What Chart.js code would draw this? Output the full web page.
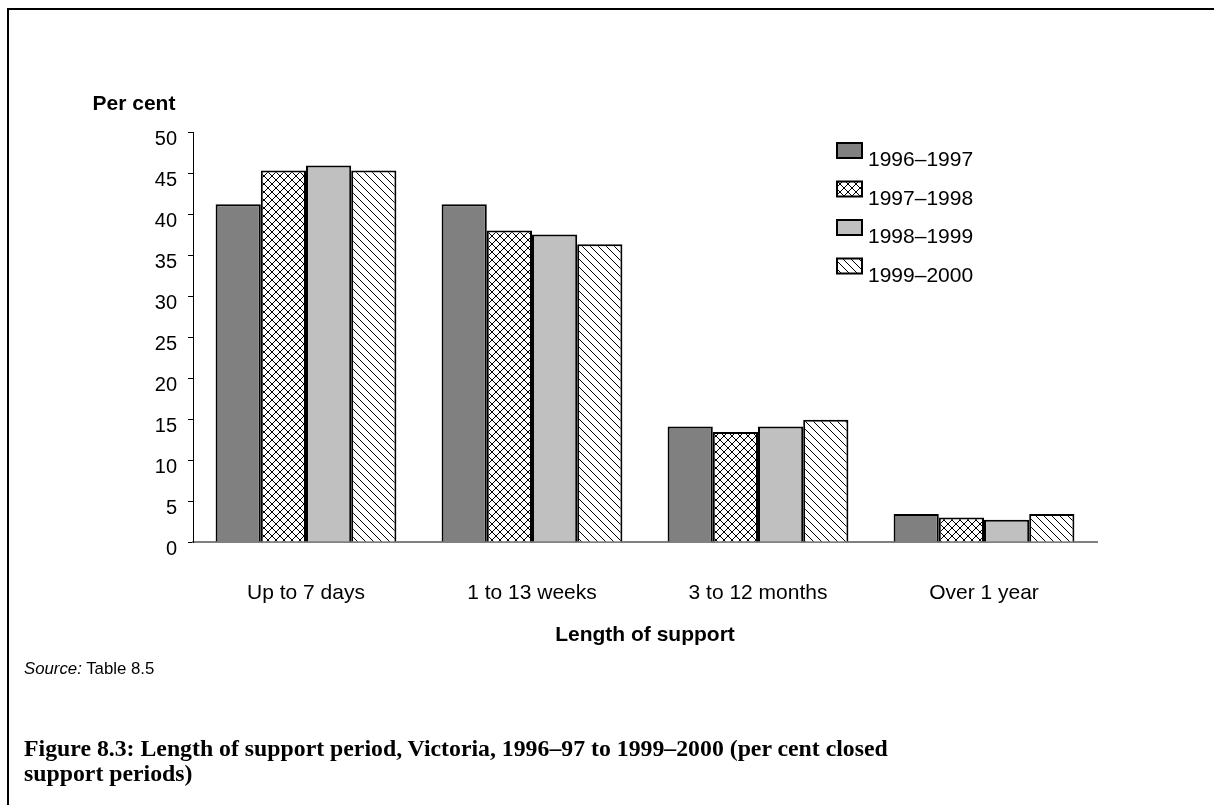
<!DOCTYPE html>
<html>
<head>
<meta charset="utf-8">
<script src="https://cdn.jsdelivr.net/npm/chart.js@4"></script>
<style>
  html, body { margin: 0; padding: 0; background: #fff; }
  body { width: 1214px; height: 805px; position: relative; overflow: hidden; }
  #frame { position: absolute; left: 7px; top: 8px; right: -10px; bottom: -10px;
           border-left: 2px solid #000; border-top: 2px solid #000; }
  #wrap { position: absolute; left: 0; top: 0; width: 1214px; height: 805px; }
  #source { position: absolute; left: 24px; top: 660px; font: 16.8px "Liberation Sans", Arial, sans-serif;
            line-height: 17px; color: #000; white-space: nowrap; }
  #caption { position: absolute; left: 24px; top: 736px; font-family: "Liberation Serif", "Times New Roman", serif;
             font-weight: bold; line-height: 25px; color: #000; white-space: nowrap; }
</style>
</head>
<body>
<div id="frame"></div>
<div id="wrap"><canvas id="c" width="1214" height="805"></canvas></div>
<div id="source"><i>Source:</i> Table 8.5</div>
<div id="caption"><span id="cap1">Figure 8.3: Length of support period, Victoria, 1996–97 to 1999–2000 (per cent closed</span><br>support periods)</div>
<script>
// ---- data ----
const categories = ['Up to 7 days', '1 to 13 weeks', '3 to 12 months', 'Over 1 year'];
const seriesLabels = ['1996–1997', '1997–1998', '1998–1999', '1999–2000'];
const v1996_97 = [41.2, 41.2, 14.1, 3.4];
const v1997_98 = [45.3, 38.0, 13.4, 3.0];
const v1998_99 = [45.9, 37.5, 14.1, 2.7];
const v1999_00 = [45.3, 36.3, 14.9, 3.4];
const yTickValues = [0, 5, 10, 15, 20, 25, 30, 35, 40, 45, 50];
const yAxisLabel = 'Per cent';
const xAxisLabel = 'Length of support';

// ---- caption width fit ----
(function () {
  const m = document.createElement('canvas').getContext('2d');
  m.font = 'bold 20px "Liberation Serif"';
  const w = m.measureText(document.getElementById('cap1').textContent).width;
  const size = 20 * 865 / w;
  document.getElementById('caption').style.fontSize = size.toFixed(2) + 'px';
})();

// ---- patterns ----
const ctxMain = document.getElementById('c').getContext('2d');
function crossHatch() {
  const c = document.createElement('canvas'); c.width = 8; c.height = 8;
  const g = c.getContext('2d');
  g.fillStyle = '#fff'; g.fillRect(0, 0, 8, 8);
  g.strokeStyle = '#000'; g.lineWidth = 1;
  g.beginPath();
  g.moveTo(0, 0); g.lineTo(8, 8);
  g.moveTo(8, 0); g.lineTo(0, 8);
  g.stroke();
  return ctxMain.createPattern(c, 'repeat');
}
function diagLines() {
  const c = document.createElement('canvas'); c.width = 8; c.height = 8;
  const g = c.getContext('2d');
  g.fillStyle = '#fff'; g.fillRect(0, 0, 8, 8);
  g.strokeStyle = '#000'; g.lineWidth = 1;
  g.beginPath();
  g.moveTo(-1, -1); g.lineTo(9, 9);
  g.moveTo(-1, 7); g.lineTo(1, 9);
  g.moveTo(7, -1); g.lineTo(9, 1);
  g.stroke();
  return ctxMain.createPattern(c, 'repeat');
}
const fills = ['#808080', crossHatch(), '#c0c0c0', diagLines()];
const seriesValues = [v1996_97, v1997_98, v1998_99, v1999_00];

const datasets = seriesLabels.map((lab, i) => ({
  label: lab,
  data: seriesValues[i],
  backgroundColor: fills[i],
  borderColor: '#000',
  borderWidth: 2,
  borderSkipped: 'bottom',
  categoryPercentage: 0.8,
  barPercentage: 1.0
}));

const FONT = '"Liberation Sans", Arial, sans-serif';

const extras = {
  id: 'extras',
  afterDraw(chart) {
    const ctx = chart.ctx;
    ctx.save();
    // y axis label
    ctx.fillStyle = '#000';
    ctx.font = 'bold 21px ' + FONT;
    ctx.textAlign = 'center';
    ctx.textBaseline = 'alphabetic';
    ctx.fillText(yAxisLabel, 134, 110);
    // legend
    chart.data.datasets.forEach((ds, i) => {
      const y = 143 + i * 38.5;
      ctx.fillStyle = ds.backgroundColor;
      ctx.fillRect(837, y, 25, 15);
      ctx.strokeStyle = '#000';
      ctx.lineWidth = 2;
      ctx.strokeRect(837, y, 25, 15);
      ctx.fillStyle = '#000';
      ctx.font = '21px ' + FONT;
      ctx.textAlign = 'left';
      ctx.textBaseline = 'alphabetic';
      ctx.fillText(ds.label, 868, y + 23);
    });
    ctx.restore();
  }
};

new Chart(ctxMain, {
  type: 'bar',
  data: { labels: categories, datasets },
  options: {
    responsive: false,
    animation: false,
    devicePixelRatio: 1,
    layout: { padding: { left: 0, top: 132, right: 117, bottom: 805 - 542 - 106 } },
    plugins: { legend: { display: false }, tooltip: { enabled: false }, title: { display: false } },
    scales: {
      x: {
        afterFit: s => { s.height = 106; },
        grid: { display: false, drawTicks: false },
        border: { display: true, color: '#808080', width: 2 },
        ticks: { color: '#000', font: { family: FONT, size: 21 }, padding: 39, maxRotation: 0 },
        title: { display: true, text: xAxisLabel, color: '#000',
                 font: { family: FONT, size: 21, weight: 'bold' }, padding: { top: 0, bottom: 0 } }
      },
      y: {
        min: 0, max: 50,
        afterFit: s => { s.width = 193; },
        afterBuildTicks: s => { s.ticks = yTickValues.map(v => ({ value: v })); },
        grid: { display: true, drawOnChartArea: false, drawTicks: true, tickLength: 5, color: '#000', lineWidth: 1 },
        border: { display: true, color: '#000', width: 1 },
        ticks: { color: '#000', font: { family: FONT, size: 20 }, padding: 11, labelOffset: 7 }
      }
    }
  },
  plugins: [extras]
});
</script>
</body>
</html>
